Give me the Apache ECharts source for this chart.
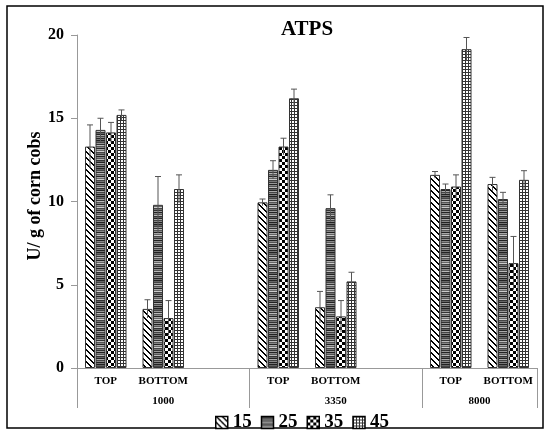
<!DOCTYPE html>
<html><head><meta charset="utf-8">
<script src="https://cdn.jsdelivr.net/npm/echarts@6/dist/echarts.min.js"></script>
<style>html,body{margin:0;padding:0;background:#fff}#c{width:550px;height:434px}</style>
</head><body><div id="c"></div>
<script>
// ---- data ----
const categories = ['TOP', 'BOTTOM', '', 'TOP', 'BOTTOM', '', 'TOP', 'BOTTOM'];
const groups = ['1000', '3350', '8000'];
const seriesNames = ['15', '25', '35', '45'];
const s15 = [13.3, 3.55, '-', 9.95, 3.65, '-', 11.6, 11.05];
const s25 = [14.3, 9.8, '-', 11.9, 9.6, '-', 10.75, 10.15];
const s35 = [14.15, 3.0, '-', 13.3, 3.1, '-', 10.9, 6.3];
const s45 = [15.2, 10.75, '-', 16.2, 5.2, '-', 19.15, 11.3];
const e15 = [1.3, 0.55, '-', 0.2, 0.95, '-', 0.2, 0.4];
const e25 = [0.7, 1.7, '-', 0.55, 0.8, '-', 0.3, 0.4];
const e35 = [0.6, 1.05, '-', 0.5, 0.95, '-', 0.7, 1.6];
const e45 = [0.3, 0.85, '-', 0.55, 0.55, '-', 0.7, 0.55];
const yTicks = [0, 5, 10, 15, 20];

const values = [s15, s25, s35, s45];
const errors = [e15, e25, e35, e45];

// ---- patterns ----
function mk(w, h, draw) {
  const c = document.createElement('canvas'); c.width = w; c.height = h;
  const g = c.getContext('2d'); g.fillStyle = '#fff'; g.fillRect(0, 0, w, h);
  draw(g); return { image: c, repeat: 'repeat' };
}
const pDiag = mk(6, 6, g => { g.fillStyle = '#000';
  for (let y = 0; y < 6; y++) for (let x = 0; x < 6; x++) if (((x - y) % 6 + 6) % 6 < 2) g.fillRect(x, y, 1, 1); });
const pHoriz = mk(4, 28, g => {
  const cols = ['#222','#666','#444','#999','#333','#bbb','#555','#888','#222','#aaa','#666','#ccc','#444','#777',
                '#333','#999','#222','#888','#555','#bbb','#333','#666','#222','#aaa','#444','#888','#222','#777'];
  cols.forEach((c, i) => { g.fillStyle = c; g.fillRect(0, i, 4, 1); }); });
const pCheck = mk(6, 6, g => { g.fillStyle = '#000'; g.fillRect(0, 0, 3, 3); g.fillRect(3, 3, 3, 3); });
const pGrid = mk(3, 3, g => { g.fillStyle = '#333'; g.fillRect(0, 0, 3, 1); g.fillRect(0, 0, 1, 3); });
const patterns = [pDiag, pHoriz, pCheck, pGrid];

// ---- layout helpers ----
const BW = 10, GAP = 0.05;
const total = 4 * BW + 3 * GAP * BW;
const offsets = [0, 1, 2, 3].map(i => -total / 2 + i * (BW + GAP * BW) + BW / 2);

// group boundaries derived from the blank separators
const bounds = [0];
categories.forEach((c, i) => { if (c === '') bounds.push(i + 1); });
bounds.push(categories.length);
const centers = [];
for (let i = 0; i < bounds.length - 1; i++) centers.push((bounds[i] + bounds[i + 1]) / 2);

const FONT = 'Liberation Serif';

const series = [];
values.forEach((vals, k) => {
  series.push({
    name: seriesNames[k], type: 'bar', barWidth: BW, barGap: (GAP * 100) + '%',
    data: vals,
    itemStyle: { color: patterns[k], borderColor: '#333', borderWidth: 1 }
  });
});
values.forEach((vals, k) => {
  const data = [];
  vals.forEach((v, i) => { if (v !== '-') data.push([i, v, errors[k][i]]); });
  series.push({
    name: 'err' + seriesNames[k], type: 'custom', z: 5, silent: true, data,
    encode: { x: 0, y: 1 },
    renderItem: (params, api) => {
      const x = api.value(0), v = api.value(1), e = api.value(2);
      const top = api.coord([x, v + e]); const bot = api.coord([x, v - e]);
      const cx = top[0] + offsets[k];
      return { type: 'group', children: [
        { type: 'line', shape: { x1: cx, y1: bot[1], x2: cx, y2: top[1] }, style: { stroke: '#555', lineWidth: 1 } },
        { type: 'line', shape: { x1: cx - 3, y1: top[1], x2: cx + 3, y2: top[1] }, style: { stroke: '#555', lineWidth: 1 } }
      ] };
    }
  });
});

const chart = echarts.init(document.getElementById('c'), null, { renderer: 'canvas' });
chart.setOption({
  animation: false,
  backgroundColor: '#fff',
  grid: { left: 77, right: 13, top: 35, bottom: 66, containLabel: false },
  legend: {
    data: seriesNames, left: 210, top: 408, itemWidth: 12, itemHeight: 12, itemGap: 9,
    icon: 'rect',
    textStyle: { fontFamily: FONT, fontWeight: 'bold', fontSize: 19, color: '#000' },
    itemStyle: { borderColor: '#000', borderWidth: 1.5 }
  },
  xAxis: [
    { type: 'category', data: categories,
      axisLine: { lineStyle: { color: '#999' } }, axisTick: { show: false },
      axisLabel: { interval: 0, margin: 8, fontFamily: FONT, fontWeight: 'bold', fontSize: 11, color: '#000' } },
    { type: 'value', position: 'bottom', min: 0, max: categories.length,
      axisLine: { show: false }, splitLine: { show: false },
      axisTick: { show: true, customValues: bounds, length: 40, lineStyle: { color: '#999' } },
      axisLabel: { customValues: centers, margin: 28, fontFamily: FONT, fontWeight: 'bold', fontSize: 11, color: '#000',
        formatter: v => { const j = centers.indexOf(v); return j >= 0 ? groups[j] : ''; } } }
  ],
  yAxis: {
    type: 'value', min: yTicks[0], max: yTicks[yTicks.length - 1], interval: 5,
    axisLine: { show: true, lineStyle: { color: '#999' } },
    axisTick: { show: true, length: 6, lineStyle: { color: '#999' } },
    splitLine: { show: false },
    axisLabel: { margin: 13, fontFamily: FONT, fontWeight: 'bold', fontSize: 16, color: '#000' }
  },
  graphic: [
    { type: 'rect', shape: { x: 7, y: 6, width: 536, height: 422 }, style: { fill: 'none', stroke: '#000', lineWidth: 1.5 }, z: -1 },
    { type: 'text', x: 307, y: 19, style: { text: 'ATPS', font: 'bold 21px "Liberation Serif"', fill: '#000', align: 'center', verticalAlign: 'top' } },
    { type: 'text', x: 35, y: 196, rotation: Math.PI / 2,
      style: { text: 'U/ g of corn cobs', font: 'bold 18px "Liberation Serif"', fill: '#000', align: 'center', verticalAlign: 'middle' } }
  ],
  series
});
</script></body></html>
